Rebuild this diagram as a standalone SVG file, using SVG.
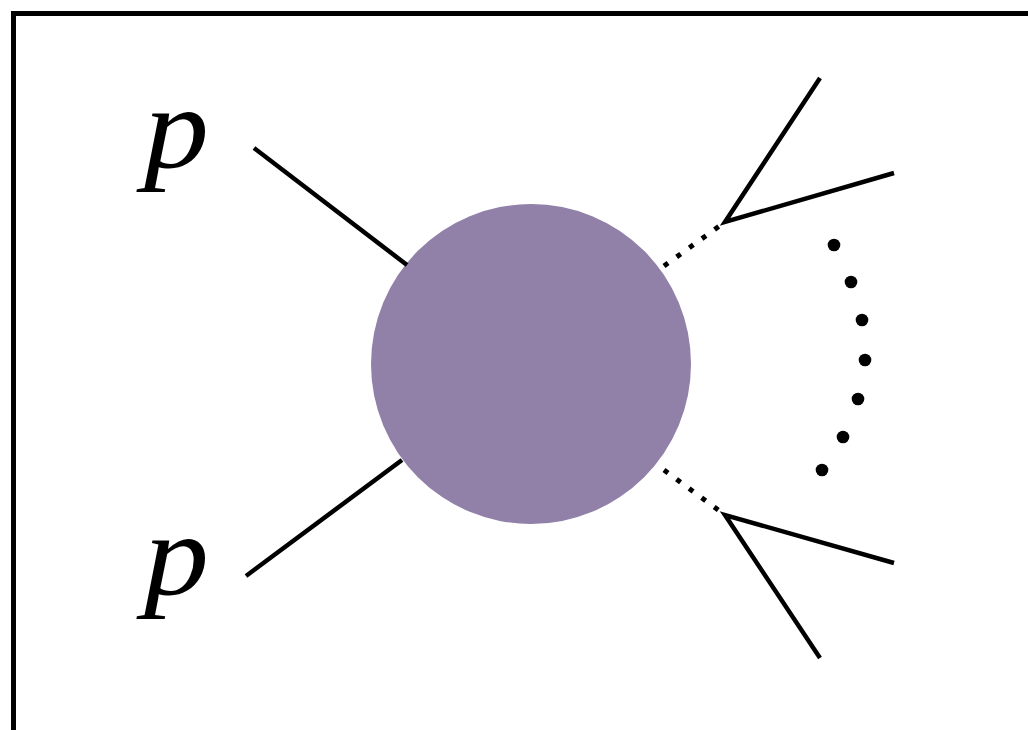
<svg xmlns="http://www.w3.org/2000/svg" width="1028" height="730" viewBox="0 0 1028 730">
<style>
.ln{stroke:#000;stroke-width:4.5;fill:none;stroke-linecap:butt}
.dot{stroke:#000;stroke-width:5;fill:none;stroke-dasharray:5 10.6}
.lbl{font-family:"Liberation Serif",serif;font-style:italic;font-size:116px;fill:#000}
</style>
<rect width="1028" height="730" fill="#fff"/>
<path d="M13.5,740 V13.5 H1040" stroke="#000" stroke-width="5" fill="none"/>
<g id="blob"><circle cx="531" cy="364" r="160" fill="#9180a8"/></g>
<g id="label-p-top"><text class="lbl" transform="translate(144,167) scale(1.12,1)">p</text></g>
<g id="label-p-bottom"><text class="lbl" transform="translate(144,594) scale(1.12,1)">p</text></g>
<g id="connectors">
<line class="ln" x1="254" y1="148" x2="407" y2="265"/>
<line class="ln" x1="246" y1="576" x2="402" y2="460"/>
<line class="dot" x1="664" y1="266" x2="725" y2="222"/>
<line class="dot" x1="664" y1="470" x2="725" y2="515"/>
<polyline class="ln" points="820,78 725,222 894,173"/>
<polyline class="ln" points="820,658 725,515 894,563"/>
</g>
<g id="dots" fill="#000">
<circle cx="834" cy="245" r="6.3"/>
<circle cx="851" cy="282" r="6.3"/>
<circle cx="862" cy="320" r="6.3"/>
<circle cx="865" cy="360" r="6.3"/>
<circle cx="858" cy="399" r="6.3"/>
<circle cx="843" cy="437" r="6.3"/>
<circle cx="822" cy="470" r="6.3"/>
</g>
</svg>
